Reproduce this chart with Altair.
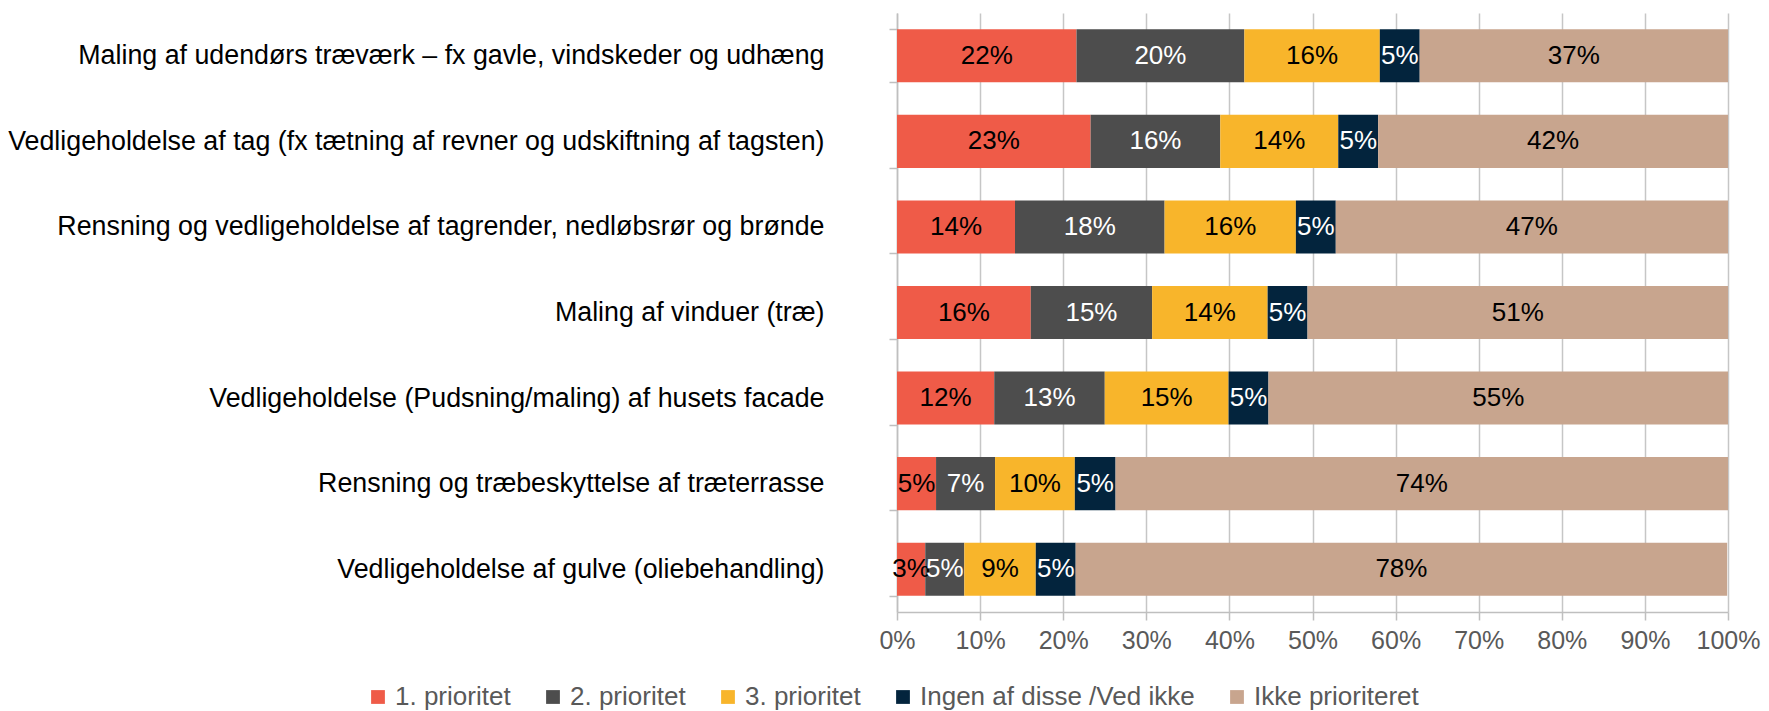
import altair as alt
import pandas as pd

categories = [
    "Maling af udendørs træværk – fx gavle, vindskeder og udhæng",
    "Vedligeholdelse af tag (fx tætning af revner og udskiftning af tagsten)",
    "Rensning og vedligeholdelse af tagrender, nedløbsrør og brønde",
    "Maling af vinduer (træ)",
    "Vedligeholdelse (Pudsning/maling) af husets facade",
    "Rensning og træbeskyttelse af træterrasse",
    "Vedligeholdelse af gulve (oliebehandling)",
]
series_names = ["1. prioritet", "2. prioritet", "3. prioritet",
                "Ingen af disse /Ved ikke", "Ikke prioriteret"]
p1 = [21.6, 23.3, 14.2, 16.1, 11.7, 4.7, 3.4]
p2 = [20.2, 15.6, 18.0, 14.6, 13.3, 7.1, 4.7]
p3 = [16.3, 14.2, 15.8, 13.9, 14.9, 9.6, 8.6]
ingen = [4.8, 4.8, 4.8, 4.8, 4.8, 4.9, 4.8]
ikke = [37.1, 42.1, 47.2, 50.6, 55.3, 73.7, 78.4]
colors = ["#EF5B48", "#4D4D4D", "#F8B52B", "#03243D", "#C8A58E"]
x_ticks = list(range(0, 101, 10))

rows = []
for si, (name, vals) in enumerate(zip(series_names, [p1, p2, p3, ingen, ikke])):
    for c, v in zip(categories, vals):
        rows.append({"cat": c, "series": name, "ord": si, "value": v})
df = pd.DataFrame(rows)

FONT = "Liberation Sans"
FS = 26

base = alt.Chart(df).transform_stack(
    stack="value", groupby=["cat"], as_=["x0", "x1"],
    sort=[alt.SortField("ord", order="ascending")]
).transform_calculate(
    mid="(datum.x0 + datum.x1) / 2",
    label="format(datum.value, '.0f') + '%'",
    tc="(datum.series === '2. prioritet' || datum.series === 'Ingen af disse /Ved ikke') ? 'white' : 'black'",
)

y_enc = alt.Y(
    "cat:N", sort=categories, title=None,
    scale=alt.Scale(paddingInner=0.38, paddingOuter=0.19),
    axis=alt.Axis(labelFont=FONT, labelFontSize=26.8, labelColor="black",
                  labelLimit=0, labelPadding=65, tickSize=8, tickBand="extent",
                  tickColor="#BFBFBF", domainColor="#BFBFBF", domainWidth=1.5,
                  tickWidth=1.5, grid=False),
)

bars = base.mark_bar().encode(
    x=alt.X("x0:Q", title=None,
            scale=alt.Scale(domain=[0, 100], nice=False),
            axis=alt.Axis(values=x_ticks, labelExpr="datum.value + '%'",
                          labelFont=FONT, labelFontSize=25, labelColor="#595959",
                          labelOverlap=False, labelFlush=False,
                          tickSize=8, tickColor="#BFBFBF", tickWidth=1.5,
                          domainColor="#BFBFBF", domainWidth=1.5,
                          labelPadding=8, grid=True, gridColor="#C6C6C6",
                          gridWidth=1.5)),
    x2="x1:Q",
    y=y_enc,
    color=alt.Color(
        "series:N",
        scale=alt.Scale(domain=series_names, range=colors),
        legend=alt.Legend(
            title=None, orient="none", legendX=-532, legendY=671,
            direction="horizontal", columns=5, symbolType="square",
            symbolSize=190, symbolStrokeWidth=0, labelFont=FONT,
            labelFontSize=FS, labelColor="#595959", labelLimit=0,
            labelOffset=4, columnPadding=29, padding=0,
        ),
    ),
)

texts = base.mark_text(font=FONT, fontSize=FS, align="center",
                       baseline="middle").encode(
    x=alt.X("mid:Q"),
    y=alt.Y("cat:N", sort=categories),
    text="label:N",
    color=alt.Color("tc:N", scale=None, legend=None),
)

chart = alt.layer(bars, texts).resolve_scale(color="independent").properties(
    width=831, height=599,
    autosize=alt.AutoSizeParams(type="none"),
    padding={"left": 889, "top": 5, "right": 33, "bottom": 99},
).configure_view(stroke=None)

chart.save("out.html", embed_options={"renderer": "svg", "actions": False})
